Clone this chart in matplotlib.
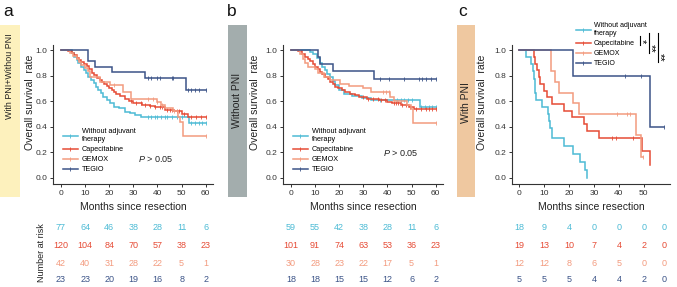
import numpy as np
import matplotlib
matplotlib.use("Agg")
import matplotlib.pyplot as plt
from matplotlib.lines import Line2D
from matplotlib.patches import Rectangle
from matplotlib.transforms import blended_transform_factory

plt.rcParams["font.family"] = ["Liberation Sans", "DejaVu Sans"]
plt.rcParams["mathtext.fontset"] = "custom"
plt.rcParams["mathtext.it"] = "Liberation Sans:italic"
plt.rcParams["mathtext.rm"] = "Liberation Sans"

W, H = 677, 287

# colours
C_NONE = "#4DBBD5"
C_CAPE = "#E64B35"
C_GEMOX = "#F39B7F"
C_TEGIO = "#3C5488"
colors = [C_NONE, C_CAPE, C_GEMOX, C_TEGIO]
groups = ["Without adjuvant\ntherapy", "Capecitabine", "GEMOX", "TEGIO"]

risk_times = [0, 10, 20, 30, 40, 50, 60]
risk_times_c = [0, 10, 20, 30, 40, 50, 58]

# ---------- panel a : with PNI + without PNI
a_none_t = [4.4, 5.5, 6.5, 7.2, 8.5, 9.5, 10.5, 11.3, 12.5, 13.5, 14.5, 15.5, 16.5, 17.5,
            19, 20.5, 22, 24, 26.5, 28.5, 30.5, 33, 53]
a_none_s = [0.974, 0.948, 0.922, 0.896, 0.870, 0.844, 0.818, 0.792, 0.766, 0.740, 0.714, 0.688,
            0.662, 0.636, 0.610, 0.584, 0.558, 0.545, 0.519, 0.506, 0.490, 0.474, 0.432]
a_none_c = [36, 37.5, 39, 40, 41.5, 43, 44, 46, 48, 50, 54, 55.5, 57, 58.5, 60]

a_cape_t = [3, 4.5, 5.5, 6.5, 7.5, 8.5, 9.5, 10.6, 11.5, 12.7, 13.8, 14.8, 16, 16.8, 18, 18.9,
            20, 21, 22, 23, 24.5, 26.5, 28, 30, 33.4, 37, 39, 43, 47, 50, 52.7]
a_cape_s = [0.992, 0.975, 0.958, 0.942, 0.925, 0.908, 0.891, 0.874, 0.849, 0.824, 0.807, 0.782,
            0.765, 0.748, 0.735, 0.718, 0.705, 0.690, 0.675, 0.660, 0.643, 0.621, 0.604, 0.585,
            0.570, 0.563, 0.556, 0.535, 0.520, 0.500, 0.476]
a_cape_c = [29, 31, 33, 35, 37, 39, 41, 42, 44, 45, 46, 48, 49, 51, 54, 56, 58, 60]

a_gemox_t = [3.7, 5, 6.5, 7.5, 8.5, 10, 11, 12, 16, 20.5, 25.5, 29, 40, 41.5, 43, 46.5, 48.5,
             49.5, 50.5]
a_gemox_s = [0.976, 0.952, 0.929, 0.905, 0.881, 0.857, 0.833, 0.786, 0.750, 0.726, 0.675, 0.620,
             0.595, 0.572, 0.548, 0.520, 0.480, 0.440, 0.330]
a_gemox_c = [22, 36, 38, 40, 42, 47, 60]

a_tegio_t = [11, 14, 21, 35, 52]
a_tegio_s = [0.913, 0.870, 0.826, 0.780, 0.685]
a_tegio_c = [36, 37.5, 40, 41, 46, 46.5, 52.7, 54, 55.5, 57, 60]

a_risk = [[77, 64, 46, 38, 28, 11, 6],
          [120, 104, 84, 70, 57, 38, 23],
          [42, 40, 31, 28, 22, 5, 1],
          [23, 23, 20, 19, 16, 8, 2]]

# ---------- panel b : without PNI
b_none_t = [8, 9.3, 10.7, 12, 13, 14, 15, 16.2, 17.3, 18.3, 19.7, 21.8, 25.3, 29.4, 33, 53.3]
b_none_s = [0.983, 0.966, 0.935, 0.896, 0.870, 0.844, 0.817, 0.790, 0.760, 0.730, 0.690, 0.660,
            0.645, 0.622, 0.610, 0.555]
b_none_c = [37, 44, 45.5, 47, 48.5, 50, 54, 55.5, 57, 58.5, 60]

b_cape_t = [3, 4.4, 5.8, 7, 7.9, 9, 10, 11, 12, 13, 14.2, 15.2, 16.3, 17.3, 18.3, 19.5, 21,
            22.5, 24.6, 26.5, 28, 31.5, 36.4, 40, 42, 45.4, 49, 51]
b_cape_s = [0.990, 0.970, 0.950, 0.931, 0.911, 0.891, 0.871, 0.851, 0.832, 0.812, 0.792, 0.772,
            0.752, 0.733, 0.713, 0.703, 0.690, 0.673, 0.660, 0.647, 0.635, 0.620, 0.610, 0.597,
            0.583, 0.570, 0.557, 0.540]
b_cape_c = [30, 32, 34, 36, 37.5, 39, 42.5, 43.5, 44.5, 46, 47.5, 49.5, 52, 54, 56, 57, 58.5, 60]

b_gemox_t = [3.7, 5.1, 6, 7.2, 10, 11.4, 13.5, 16, 20.4, 24, 30, 33, 41, 42.5, 48, 49.6, 50.7]
b_gemox_s = [0.967, 0.933, 0.900, 0.867, 0.853, 0.820, 0.787, 0.770, 0.737, 0.720, 0.700, 0.670,
             0.635, 0.600, 0.570, 0.540, 0.430]
b_gemox_c = [38, 39.5, 40.5, 60]

b_tegio_t = [11, 12, 17.5, 34.5]
b_tegio_s = [0.944, 0.889, 0.833, 0.778]
b_tegio_c = [37, 40.5, 47, 53, 54.5, 56, 58, 60]

b_risk = [[59, 55, 42, 38, 28, 11, 6],
          [101, 91, 74, 63, 53, 36, 23],
          [30, 28, 23, 22, 17, 5, 1],
          [18, 18, 15, 15, 12, 6, 2]]

# ---------- panel c : with PNI
c_none_t = [3, 5, 5.5, 6, 6.3, 6.6, 7, 9.2, 11.8, 12.1, 12.5, 13.2, 17.9, 21.8, 24.5, 26.5, 27.3]
c_none_s = [0.944, 0.889, 0.833, 0.778, 0.722, 0.667, 0.611, 0.556, 0.500, 0.444, 0.389, 0.311,
            0.248, 0.185, 0.123, 0.062, 0.0]
c_none_c = []

c_cape_t = [6, 6.5, 7.2, 8, 8.5, 9.9, 11.2, 13.2, 17.9, 21.2, 25.9, 27.2, 31.9, 49.3, 52.6]
c_cape_s = [0.947, 0.895, 0.842, 0.789, 0.737, 0.684, 0.632, 0.579, 0.526, 0.474, 0.421, 0.368,
            0.316, 0.211, 0.105]
c_cape_c = [37.2, 39, 45.6]

c_gemox_t = [12.7, 14.5, 16, 21.5, 24, 46.8, 49]
c_gemox_s = [0.833, 0.750, 0.667, 0.583, 0.500, 0.333, 0.167]
c_gemox_c = [39.2, 43.2, 44.5, 49.6]

c_tegio_t = [21.5, 52.5]
c_tegio_s = [0.8, 0.4]
c_tegio_c = [42.5, 49, 57.9]

c_risk = [[18, 9, 4, 0, 0, 0, 0],
          [19, 13, 10, 7, 4, 2, 0],
          [12, 12, 8, 6, 5, 0, 0],
          [5, 5, 5, 4, 4, 2, 0]]


def px(x):
    return x / W


def py(y):
    return 1 - y / H


def km(ax, t, s, cens, color):
    t = np.asarray(t, float)
    s = np.asarray(s, float)
    end = max(t[-1], max(cens) if len(cens) else 0)
    x = np.r_[0, t, end]
    y = np.r_[1, s, s[-1]]
    ax.step(x, y, where="post", color=color, lw=1.1, solid_joinstyle="miter")
    if len(cens):
        idx = np.searchsorted(t, cens, side="right") - 1
        yc = np.where(idx >= 0, s[np.clip(idx, 0, None)], 1.0)
        ax.plot(cens, yc, "|", color=color, ms=3, mew=0.6)


def setup(ax, xlim, xticks):
    ax.set_xlim(*xlim)
    ax.set_ylim(-0.047, 1.04)
    ax.set_xticks(xticks)
    ax.set_yticks([0, 0.2, 0.4, 0.6, 0.8, 1.0])
    ax.set_yticklabels(["0.0", "0.2", "0.4", "0.6", "0.8", "1.0"])
    for sp in ["top", "right"]:
        ax.spines[sp].set_visible(False)
    for sp in ["left", "bottom"]:
        ax.spines[sp].set_linewidth(0.8)
        ax.spines[sp].set_color("#333333")
    ax.tick_params(labelsize=6, length=2.5, width=0.7, pad=1.5, colors="#333333")


fig = plt.figure(figsize=(W / 100, H / 100), dpi=100)

panels = [
    dict(left=53, width=160, xlim=(-3.3, 63), xticks=[0, 10, 20, 30, 40, 50, 60],
         curves=[(a_none_t, a_none_s, a_none_c), (a_cape_t, a_cape_s, a_cape_c),
                 (a_gemox_t, a_gemox_s, a_gemox_c), (a_tegio_t, a_tegio_s, a_tegio_c)],
         risk=a_risk, rt=risk_times, strip=(0, 20, "#FDF1BD"), strip_text="With PNI+Withou PNI",
         strip_fs=6.4, strip_y=76, ylab_x=30, letter=("a", 8), p=(32, 0.148)),
    dict(left=283, width=160, xlim=(-3.3, 63), xticks=[0, 10, 20, 30, 40, 50, 60],
         curves=[(b_none_t, b_none_s, b_none_c), (b_cape_t, b_cape_s, b_cape_c),
                 (b_gemox_t, b_gemox_s, b_gemox_c), (b_tegio_t, b_tegio_s, b_tegio_c)],
         risk=b_risk, rt=risk_times, strip=(228, 19, "#A3ADAD"), strip_text="Without PNI",
         strip_fs=7.5, strip_y=100, ylab_x=255, letter=("b", 232), p=(38, 0.195)),
    dict(left=512, width=158, xlim=(-2.8, 60.5), xticks=[0, 10, 20, 30, 40, 50],
         curves=[(c_none_t, c_none_s, c_none_c), (c_cape_t, c_cape_s, c_cape_c),
                 (c_gemox_t, c_gemox_s, c_gemox_c), (c_tegio_t, c_tegio_s, c_tegio_c)],
         risk=c_risk, rt=risk_times_c, strip=(457, 18, "#EFC8A0"), strip_text="With PNI",
         strip_fs=7.5, strip_y=103, ylab_x=482, letter=("c", 463), p=None),
]

risk_rows = [227, 245, 263, 280]
handles = [Line2D([0], [0], color=c, lw=1.1, marker="|", ms=3, mew=0.6) for c in colors]

for i, p in enumerate(panels):
    ax = fig.add_axes([px(p["left"]), py(184), px(p["width"]), 139 / H])
    for (t, s, cens), col in zip(p["curves"], colors):
        km(ax, t, s, cens, col)
    setup(ax, p["xlim"], p["xticks"])

    # side strip
    sx, sw, scol = p["strip"]
    fig.add_artist(Rectangle((px(sx), py(197)), px(sw), 172 / H, transform=fig.transFigure,
                             facecolor=scol, edgecolor="none", zorder=0))
    fig.text(px(sx + sw / 2), py(p["strip_y"]), p["strip_text"], rotation=90,
             ha="center", va="center", fontsize=p["strip_fs"], color="#222222")
    fig.text(px(p["ylab_x"]), py(102), "Overall survival  rate", rotation=90,
             ha="center", va="center", fontsize=7.5, color="#222222")
    fig.text(px(p["letter"][1]), py(12), p["letter"][0], ha="center", va="center",
             fontsize=12.5, color="#111111")
    fig.text(px(p["left"] + p["width"] / 2), py(207), "Months since resection",
             ha="center", va="center", fontsize=7.5, color="#222222")

    # legend
    if i < 2:
        ax.legend(handles, groups, loc="upper left", bbox_to_anchor=(0.06, 0.40),
                  frameon=False, fontsize=5.2, handlelength=2.1, handletextpad=0.55,
                  labelspacing=0.4, borderpad=0, borderaxespad=0)
        ax.text(p["p"][0], p["p"][1], r"$P$ > 0.05", fontsize=6.5, va="center",
                color="#222222")
    else:
        ax.legend(handles, groups, loc="upper left", bbox_to_anchor=(0.405, 1.165),
                  frameon=False, fontsize=5.0, handlelength=2.1, handletextpad=0.5,
                  labelspacing=0.45, borderpad=0, borderaxespad=0)

    # number at risk table
    tr = blended_transform_factory(ax.transData, fig.transFigure)
    for row, col, yy in zip(p["risk"], colors, risk_rows):
        for xt, n in zip(p["rt"], row):
            ax.text(xt, py(yy), str(n), transform=tr, ha="center", va="center",
                    fontsize=6.5, color=col, clip_on=False)

fig.text(px(42), py(253), "Number at risk", rotation=90, ha="center", va="center",
         fontsize=6.5, color="#222222")

# significance brackets for panel c
for xl, y0, y1, star, xs, ys in [(640, 36, 45, "*", 642, 41.5),
                                 (649, 33, 53, "**", 651, 48),
                                 (658, 33, 62, "**", 660, 57)]:
    fig.add_artist(Line2D([px(xl), px(xl)], [py(y0), py(y1)], transform=fig.transFigure,
                          color="black", lw=0.8))
    fig.text(px(xs), py(ys), star, rotation=270, ha="center", va="center", fontsize=8)

fig.savefig("out.png", dpi=100)
